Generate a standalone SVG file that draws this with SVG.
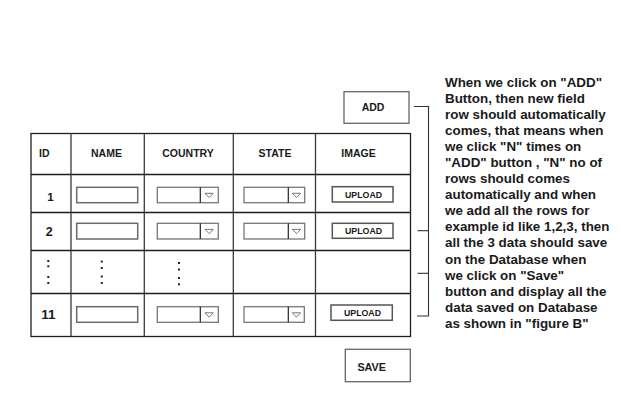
<svg xmlns="http://www.w3.org/2000/svg" width="621" height="416" viewBox="0 0 621 416">
<style>
.t{font-family:"Liberation Sans",Arial,sans-serif;font-weight:bold;fill:#1a1a1a}
.hd{font-size:10.5px;text-anchor:middle}
.grid{stroke:#1e1e1e;stroke-width:1.3;fill:none}
.vgrid{stroke:#3a3a3a;stroke-width:1.3}
.inp{fill:#fff;stroke:#6a6a6a;stroke-width:1.5}
.dd{fill:#fff;stroke:#777;stroke-width:1.3}
.ddl{stroke:#222;stroke-width:1.2}
.tri{fill:none;stroke:#666;stroke-width:0.9}
.up{fill:#fff;stroke:#555;stroke-width:1.5}
.upt{font-size:8.8px;text-anchor:middle}
.btn{fill:#fff;stroke:#666;stroke-width:1.3}
.dot{fill:#222}
.con{stroke:#333;stroke-width:1.1;fill:none}
.note{font-size:13.4px}
</style>
<rect width="621" height="416" fill="#fff"/>
<g id="table">
<rect class="grid" x="31" y="133.5" width="379.5" height="203"/>
<line class="grid" x1="31" y1="174.5" x2="410.5" y2="174.5"/>
<line class="grid" x1="31" y1="212.5" x2="410.5" y2="212.5"/>
<line class="grid" x1="31" y1="250.5" x2="410.5" y2="250.5"/>
<line class="grid" x1="31" y1="293.5" x2="410.5" y2="293.5"/>
<line class="vgrid" x1="71" y1="133.5" x2="71" y2="336.5"/>
<line class="vgrid" x1="144.3" y1="133.5" x2="144.3" y2="336.5"/>
<line class="vgrid" x1="233.3" y1="133.5" x2="233.3" y2="336.5"/>
<line class="vgrid" x1="315.5" y1="133.5" x2="315.5" y2="336.5"/>
<text class="t" x="39" y="156.5" font-size="10.5">ID</text>
<text class="t hd" x="106.5" y="156.5">NAME</text>
<text class="t hd" x="188" y="156.5">COUNTRY</text>
<text class="t hd" x="275" y="156.5">STATE</text>
<text class="t hd" x="358.5" y="156.5">IMAGE</text>
</g>
<g id="row-1">
<text class="t" x="50.5" y="201" font-size="11.5" text-anchor="middle">1</text>
<rect class="inp" x="76.7" y="187.3" width="61" height="15.4"/>
<rect class="dd" x="157.3" y="187.3" width="61" height="15.4"/>
<line class="ddl" x1="200.3" y1="187.3" x2="200.3" y2="202.7"/>
<polygon class="tri" points="205,193.3 213.3,193.3 209.2,197.6"/>
<rect class="dd" x="244" y="187.3" width="60.7" height="15.4"/>
<line class="ddl" x1="288.3" y1="187.3" x2="288.3" y2="202.7"/>
<polygon class="tri" points="292.3,193.3 300.6,193.3 296.5,197.6"/>
<rect class="up" x="332.3" y="186.7" width="60.7" height="15.3"/>
<text class="t upt" x="363.6" y="197.8">UPLOAD</text>
</g>
<g id="row-2">
<text class="t" x="49.2" y="235.7" font-size="12.5" text-anchor="middle">2</text>
<rect class="inp" x="76.7" y="223.3" width="61" height="15.7"/>
<rect class="dd" x="157.3" y="223.3" width="61" height="15.7"/>
<line class="ddl" x1="200.3" y1="223.3" x2="200.3" y2="239"/>
<polygon class="tri" points="205,229.4 213.3,229.4 209.2,233.7"/>
<rect class="dd" x="244" y="223.3" width="60.7" height="15.7"/>
<line class="ddl" x1="288.3" y1="223.3" x2="288.3" y2="239"/>
<polygon class="tri" points="292.3,229.4 300.6,229.4 296.5,233.7"/>
<rect class="up" x="332.3" y="223.3" width="60.7" height="15"/>
<text class="t upt" x="363.6" y="234.2">UPLOAD</text>
</g>
<g id="row-more">
<rect class="dot" x="47.3" y="260" width="2" height="2"/>
<rect class="dot" x="47.3" y="265.3" width="2" height="2"/>
<rect class="dot" x="47.3" y="276" width="2" height="2"/>
<rect class="dot" x="47.3" y="282" width="2" height="2"/>
<rect class="dot" x="100.8" y="260.5" width="2" height="2"/>
<rect class="dot" x="100.8" y="267" width="2" height="2"/>
<rect class="dot" x="100.8" y="275.5" width="2" height="2"/>
<rect class="dot" x="100.8" y="282" width="2" height="2"/>
<rect class="dot" x="178" y="262" width="2" height="2"/>
<rect class="dot" x="178" y="268.5" width="2" height="2"/>
<rect class="dot" x="178" y="277" width="2" height="2"/>
<rect class="dot" x="178" y="283.3" width="2" height="2"/>
</g>
<g id="row-11">
<text class="t" x="48.3" y="319" font-size="13.5" text-anchor="middle">11</text>
<rect class="inp" x="76.7" y="306.7" width="61" height="15.6"/>
<rect class="dd" x="157.3" y="306.7" width="61" height="15.6"/>
<line class="ddl" x1="200.3" y1="306.7" x2="200.3" y2="322.3"/>
<polygon class="tri" points="205,312.8 213.3,312.8 209.2,317.1"/>
<rect class="dd" x="244" y="306.7" width="60.3" height="15.6"/>
<line class="ddl" x1="288.3" y1="306.7" x2="288.3" y2="322.3"/>
<polygon class="tri" points="292.3,312.8 300.6,312.8 296.5,317.1"/>
<rect class="up" x="331" y="305" width="61.3" height="15.3"/>
<text class="t upt" x="362.5" y="316">UPLOAD</text>
</g>
<g id="add-button">
<rect class="btn" x="344" y="91.7" width="65" height="31.6"/>
<text class="t" x="373" y="111" font-size="10.5" text-anchor="middle">ADD</text>
</g>
<g id="save-button">
<rect class="btn" x="345.3" y="349.3" width="65" height="32.4"/>
<text class="t" x="371.7" y="370.7" font-size="10.8" text-anchor="middle">SAVE</text>
</g>
<g id="connectors">
<polyline class="con" points="414,106.5 428.5,106.5 428.5,316 417,316"/>
<line class="con" x1="417.5" y1="230.7" x2="428.5" y2="230.7"/>
<line class="con" x1="417.5" y1="273.3" x2="428.5" y2="273.3"/>
</g>
<g id="note">
<text class="t note" x="445" y="86.7">When we click on "ADD"</text>
<text class="t note" x="445" y="102.8">Button, then new field</text>
<text class="t note" x="445" y="118.8">row should automatically</text>
<text class="t note" x="445" y="134.9">comes, that means when</text>
<text class="t note" x="445" y="151">we click "N" times on</text>
<text class="t note" x="445" y="167">"ADD" button , "N" no of</text>
<text class="t note" x="445" y="183.1">rows should comes</text>
<text class="t note" x="445" y="199.2">automatically and when</text>
<text class="t note" x="445" y="215.3">we add all the rows for</text>
<text class="t note" x="445" y="231.3">example id like 1,2,3, then</text>
<text class="t note" x="445" y="247.4">all the 3 data should save</text>
<text class="t note" x="445" y="263.5">on the Database when</text>
<text class="t note" x="445" y="279.5">we click on "Save"</text>
<text class="t note" x="445" y="295.6">button and display all the</text>
<text class="t note" x="445" y="311.7">data saved on Database</text>
<text class="t note" x="445" y="327.7">as shown in "figure B"</text>
</g>
</svg>
